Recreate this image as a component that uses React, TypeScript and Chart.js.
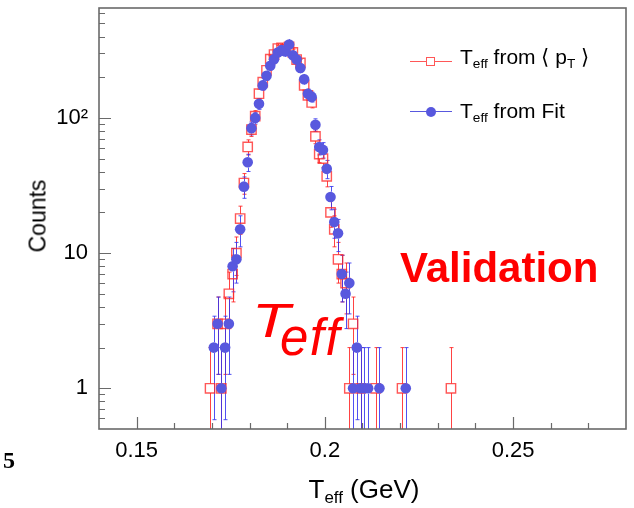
import React, { useEffect, useRef } from 'react';
import { Chart, registerables } from 'chart.js';

Chart.register(...registerables);

// ---- data ----
const redX = [0.1695, 0.1715, 0.1725, 0.1735, 0.1745, 0.1755, 0.1765, 0.1775, 0.1785, 0.1795, 0.1805, 0.1815, 0.1825, 0.1835, 0.1845, 0.1855, 0.1865, 0.1875, 0.1885, 0.1895, 0.1905, 0.1915, 0.1925, 0.1935, 0.1945, 0.1955, 0.1965, 0.1975, 0.1985, 0.1995, 0.2005, 0.2015, 0.2025, 0.2035, 0.2045, 0.2055, 0.2065, 0.2075, 0.2095, 0.2135, 0.2205, 0.2335];
const redY = [1, 3, 1, 3, 5, 7, 10, 18, 33, 61, 82, 103, 151, 184, 225, 272, 294, 326, 330, 320, 335, 305, 270, 255, 174, 147, 130, 73, 54, 50, 37, 20, 15, 9, 7, 6, 1, 3, 1, 1, 1, 1];

const blueX = [0.1705, 0.1715, 0.1725, 0.1735, 0.1745, 0.1755, 0.1765, 0.1775, 0.1785, 0.1795, 0.1805, 0.1815, 0.1825, 0.1835, 0.1845, 0.1855, 0.1865, 0.1875, 0.1885, 0.1895, 0.1905, 0.1915, 0.1925, 0.1935, 0.1945, 0.1955, 0.1965, 0.1975, 0.1985, 0.1995, 0.2005, 0.2015, 0.2025, 0.2035, 0.2045, 0.2055, 0.2065, 0.2075, 0.2085, 0.2095, 0.2105, 0.2115, 0.2145, 0.2215];
const blueY = [2, 3, 1, 2, 3, 8, 9, 15, 31, 47, 84, 100, 127, 174, 205, 243, 272, 305, 317, 310, 349, 291, 270, 234, 193, 151, 143, 89, 61, 58, 42, 26, 17, 14, 7, 5, 6, 1, 2, 1, 1, 1, 1, 1];

const xMajorTicks = [0.15, 0.2, 0.25];
const xMinorTicks = [0.16, 0.17, 0.18, 0.19, 0.21, 0.22, 0.23, 0.24, 0.26, 0.27];
const xTickLabels = ['0.15', '0.2', '0.25'];
const yMajorTicks = [1, 10, 100];
const yMinorTicks = [0.6, 0.7, 0.8, 0.9, 2, 3, 4, 5, 6, 7, 8, 9, 20, 30, 40, 50, 60, 70, 80, 90, 200, 300, 400, 500, 600];
const yTickLabels = ['1', '10', '10²'];

const RED = 'rgba(255,40,40,0.78)';
const RED_ERR = 'rgba(255,20,20,0.8)';
const BLUE = 'rgb(88,88,222)';
const BLUE_ERR = 'rgba(50,50,240,0.85)';
const FONT = '"Liberation Sans", Arial, Helvetica, sans-serif';

const errorBars = {
  id: 'errorBars',
  beforeDatasetsDraw(chart: any) {
    const { ctx, chartArea, scales } = chart;
    const { x, y } = scales;
    ctx.save();
    ctx.beginPath();
    ctx.rect(chartArea.left, chartArea.top, chartArea.right - chartArea.left, chartArea.bottom - chartArea.top);
    ctx.clip();
    chart.data.datasets.forEach((ds: any) => {
      ctx.strokeStyle = ds.errColor;
      ctx.lineWidth = 1;
      const gap = ds.markerHalf;
      ds.data.forEach((p: any) => {
        const px = Math.round(x.getPixelForValue(p.x)) + 0.5;
        const e = Math.sqrt(p.y);
        const yc = y.getPixelForValue(p.y);
        const yHi = y.getPixelForValue(p.y + e);
        const lo = p.y - e;
        const yLo = lo > 0 ? Math.min(y.getPixelForValue(lo), chartArea.bottom + 2) : chartArea.bottom + 2;
        ctx.beginPath();
        ctx.moveTo(px, yHi);
        ctx.lineTo(px, yc - gap);
        ctx.moveTo(px, yc + gap);
        ctx.lineTo(px, yLo);
        ctx.moveTo(px - 2, yHi);
        ctx.lineTo(px + 2, yHi);
        if (lo > 0 && yLo < chartArea.bottom) {
          ctx.moveTo(px - 2, yLo);
          ctx.lineTo(px + 2, yLo);
        }
        ctx.stroke();
      });
    });
    ctx.restore();
  },
};

const rootFrame = {
  id: 'rootFrame',
  afterDraw(chart: any) {
    const { ctx, chartArea, scales } = chart;
    const { left, right, top, bottom } = chartArea;
    const { x, y } = scales;
    ctx.save();
    ctx.strokeStyle = '#6a6a6a';
    ctx.lineWidth = 1.2;
    ctx.beginPath();
    xMajorTicks.forEach((v) => {
      const px = Math.round(x.getPixelForValue(v)) + 0.5;
      ctx.moveTo(px, bottom);
      ctx.lineTo(px, bottom - 12);
    });
    xMinorTicks.forEach((v) => {
      const px = Math.round(x.getPixelForValue(v)) + 0.5;
      ctx.moveTo(px, bottom);
      ctx.lineTo(px, bottom - 6);
    });
    yMajorTicks.forEach((v) => {
      const py = Math.round(y.getPixelForValue(v)) + 0.5;
      ctx.moveTo(left, py);
      ctx.lineTo(left + 12, py);
    });
    yMinorTicks.forEach((v) => {
      const py = Math.round(y.getPixelForValue(v)) + 0.5;
      ctx.moveTo(left, py);
      ctx.lineTo(left + 6, py);
    });
    ctx.stroke();
    ctx.lineWidth = 1.6;
    ctx.strokeRect(left, top, right - left, bottom - top);
    ctx.restore();
  },
};

export default function App() {
  const ref = useRef<HTMLCanvasElement>(null);
  useEffect(() => {
    document.body.style.margin = '0';
    const chart = new Chart(ref.current as HTMLCanvasElement, {
      type: 'scatter',
      data: {
        datasets: [
          {
            label: 'Teff from <pT>',
            data: redX.map((v, i) => ({ x: v, y: redY[i] })),
            pointStyle: 'rect',
            pointRadius: 6.6,
            pointBorderWidth: 1.4,
            pointBorderColor: RED,
            pointBackgroundColor: 'rgba(0,0,0,0)',
            order: 2,
            errColor: RED_ERR,
            markerHalf: 4.7,
          } as any,
          {
            label: 'Teff from Fit',
            data: blueX.map((v, i) => ({ x: v, y: blueY[i] })),
            pointStyle: 'circle',
            pointRadius: 5.3,
            pointBorderWidth: 0,
            pointBorderColor: BLUE,
            pointBackgroundColor: BLUE,
            order: 1,
            errColor: BLUE_ERR,
            markerHalf: 5.3,
          } as any,
        ],
      },
      options: {
        animation: false,
        responsive: false,
        events: [],
        layout: { padding: { top: 8, right: 4, left: 0, bottom: 0 } },
        plugins: { legend: { display: false }, tooltip: { enabled: false } },
        scales: {
          x: {
            type: 'linear',
            min: 0.14,
            max: 0.28,
            grid: { display: false },
            border: { display: false },
            afterBuildTicks: (s: any) => {
              s.ticks = xMajorTicks.map((v) => ({ value: v }));
            },
            afterFit: (s: any) => {
              s.height = 79;
              s.paddingLeft = 0;
              s.paddingRight = 0;
              s.paddingTop = 0;
              s.paddingBottom = 0;
            },
            ticks: {
              autoSkip: false,
              maxRotation: 0,
              padding: 1,
              color: '#000',
              font: { family: FONT, size: 22 },
              callback: (v: any) => xTickLabels[xMajorTicks.indexOf(Number(v))] ?? '',
            },
          },
          y: {
            type: 'logarithmic',
            min: 0.5,
            max: 650,
            grid: { display: false },
            border: { display: false },
            afterBuildTicks: (s: any) => {
              s.ticks = yMajorTicks.map((v) => ({ value: v }));
            },
            afterFit: (s: any) => {
              s.width = 99;
              s.paddingLeft = 0;
              s.paddingRight = 0;
              s.paddingTop = 0;
              s.paddingBottom = 0;
            },
            ticks: {
              autoSkip: false,
              padding: 3,
              color: '#000',
              font: { family: FONT, size: 22 },
              callback: (v: any) => yTickLabels[yMajorTicks.indexOf(Number(v))] ?? '',
            },
          },
        },
      },
      plugins: [errorBars, rootFrame],
    });
    return () => chart.destroy();
  }, []);

  const abs = (s: React.CSSProperties): React.CSSProperties => ({
    position: 'absolute',
    fontFamily: FONT,
    lineHeight: 1,
    whiteSpace: 'nowrap',
    ...s,
  });
  const sub: React.CSSProperties = { fontSize: '0.65em', verticalAlign: '-0.32em' };

  return (
    <div style={{ position: 'relative', width: 634, height: 508, background: '#fff' }}>
      <canvas ref={ref} width={634} height={508} style={{ position: 'absolute', left: 0, top: 0 }} />
      {/* legend */}
      <div style={abs({ left: 410, top: 61, width: 42, height: 0, borderTop: `1.2px solid ${RED}` })} />
      <div style={abs({ left: 426, top: 57, width: 7, height: 7, border: `1.4px solid ${RED}`, background: '#fff' })} />
      <div style={abs({ left: 460, top: 45.5, fontSize: 21, color: '#000' })}>
        T<span style={sub}>eff</span> from ⟨ p<span style={sub}>T</span> ⟩
      </div>
      <div style={abs({ left: 410, top: 111, width: 42, height: 0, borderTop: `1.2px solid ${BLUE}` })} />
      <div style={abs({ left: 425.5, top: 106.5, width: 10, height: 10, borderRadius: '50%', background: BLUE })} />
      <div style={abs({ left: 460, top: 99.5, fontSize: 21, color: '#000' })}>
        T<span style={sub}>eff</span> from Fit
      </div>
      {/* axis titles */}
      <div style={abs({ left: 264, width: 200, textAlign: 'center', top: 476, fontSize: 26, color: '#000' })}>
        T<span style={sub}>eff</span> (GeV)
      </div>
      <div
        style={abs({
          left: 38,
          top: 216,
          fontSize: 23,
          color: '#000',
          transform: 'translate(-50%, -50%) rotate(-90deg)',
        })}
      >
        Counts
      </div>
      {/* annotations */}
      <div style={abs({ left: 400, top: 246.5, fontSize: 42, fontWeight: 'bold', color: '#ff0000' })}>Validation</div>
      <div
        style={abs({
          left: 252,
          top: 297,
          fontSize: 48,
          fontStyle: 'italic',
          color: '#ff0000',
          transform: 'scaleX(1.3)',
          transformOrigin: 'left top',
        })}
      >
        T
      </div>
      <div style={abs({ left: 280, top: 312, fontSize: 51, letterSpacing: 1.5, fontStyle: 'italic', color: '#ff0000' })}>eff</div>
      <div
        style={abs({
          left: 3,
          top: 448,
          fontSize: 24,
          fontWeight: 'bold',
          color: '#000',
          fontFamily: '"Liberation Serif", "Times New Roman", serif',
        })}
      >
        5
      </div>
    </div>
  );
}
